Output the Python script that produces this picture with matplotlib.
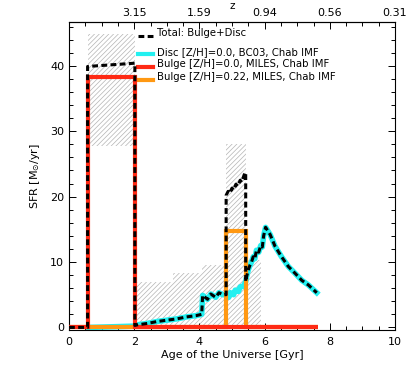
import matplotlib
matplotlib.use("Agg")
import matplotlib.pyplot as plt
from matplotlib.ticker import MultipleLocator
import numpy as np

# uncertainty range (hatched), per age bin [Gyr]
gray_edges = [0.57, 2.02, 3.18, 4.07, 4.82, 5.42, 5.88, 6.25, 6.52]
gray_hi = [44.9, 7.0, 8.3, 9.5, 28.0, 10.3, 0.0, 0.4]
gray_lo = [27.7, 0.0, 0.0, 0.0, 0.0, 0.0, 0.0, 0.0]

# bulges (step histories)
bulge0_edges = [0.0, 0.57, 2.02, 7.65]
bulge0_sfr = [0.0, 38.3, 0.0]
bulge22_edges = [0.0, 0.57, 4.82, 5.42, 7.65]
bulge22_sfr = [0.0, 0.0, 14.8, 0.0]

# disc
disc_age = [0.6, 1.0, 1.5, 2.02, 2.1, 2.4, 2.7, 3.0, 3.3, 3.6, 3.9, 4.07, 4.1,
            4.25, 4.35, 4.5, 4.6, 4.72, 4.82, 4.9, 4.95, 5.05, 5.1, 5.2, 5.25,
            5.35, 5.42, 5.45, 5.5, 5.55, 5.6, 5.65, 5.7, 5.75, 5.82, 5.88,
            5.93, 5.97, 6.03, 6.17, 6.32, 6.52, 6.73, 6.93, 7.14, 7.34, 7.6]
disc_sfr = [0.0, 0.05, 0.12, 0.2, 0.4, 0.6, 0.9, 1.1, 1.3, 1.6, 1.8, 2.0, 4.9,
            4.3, 5.1, 4.6, 5.3, 5.0, 5.0, 4.6, 5.3, 5.0, 5.7, 5.5, 6.2,
            6.3, 7.0, 7.8, 8.8, 9.5, 10.0, 10.8, 10.5, 11.8, 11.5, 12.5,
            12.3, 14.0, 15.3, 14.2, 12.4, 10.8, 9.3, 8.3, 7.2, 6.5, 5.3]

# total
tot_age = [0.0, 0.57, 0.57, 2.02, 2.02, 2.1, 2.4, 2.7, 3.0, 3.3, 3.6, 3.9, 4.07,
           4.1, 4.25, 4.35, 4.5, 4.6, 4.72, 4.82, 4.82, 4.88, 4.93, 5.0, 5.05,
           5.12, 5.18, 5.25, 5.3, 5.37, 5.42, 5.42, 5.45, 5.5, 5.55, 5.6, 5.65,
           5.7, 5.75, 5.82, 5.88, 5.93, 5.97, 6.03, 6.17, 6.32, 6.52, 6.73,
           6.93, 7.14, 7.34, 7.6]
tot_sfr = [0.0, 0.0, 39.9, 40.4, 0.3, 0.4, 0.6, 0.9, 1.1, 1.3, 1.6, 1.8, 2.0,
           4.9, 4.3, 5.1, 4.6, 5.3, 5.0, 5.0, 20.2, 20.8, 20.5, 21.3, 21.0,
           21.9, 21.6, 22.5, 22.2, 23.3, 23.7, 7.0, 7.8, 8.8, 9.5, 10.0, 10.8,
           10.5, 11.8, 11.5, 12.5, 12.3, 14.0, 15.3, 14.2, 12.4, 10.8, 9.3,
           8.3, 7.2, 6.5, 5.3]

z_ticks = [2, 4, 6, 8, 10]
z_labels = ["3.15", "1.59", "0.94", "0.56", "0.31"]

labels = ["Total: Bulge+Disc", "Disc [Z/H]=0.0, BC03, Chab IMF",
          "Bulge [Z/H]=0.0, MILES, Chab IMF", "Bulge [Z/H]=0.22, MILES, Chab IMF"]

CYAN = "#22f0f0"
RED = "#ff2a14"
ORANGE = "#ff9812"
DASH = dict(color="black", lw=2.2, dashes=(1.9, 1.1))

plt.rcParams["font.family"] = "DejaVu Sans"
plt.rcParams["hatch.linewidth"] = 0.5

fig = plt.figure(figsize=(4.15, 3.74), dpi=100)
ax = fig.add_axes([0.1663, 0.1176, 0.7855, 0.8236])

ax.stairs(gray_hi, gray_edges, baseline=gray_lo, fill=True, facecolor="none",
          edgecolor="#b4b4b4", linewidth=0, hatch="///////", zorder=1)
ax.plot(disc_age, disc_sfr, color=CYAN, lw=4.0, zorder=2)
ax.stairs(bulge22_sfr, bulge22_edges, baseline=None, color=ORANGE, lw=3.0, zorder=3)
ax.stairs(bulge0_sfr, bulge0_edges, baseline=None, color=RED, lw=3.0, zorder=4)
ax.plot(tot_age, tot_sfr, zorder=5, **DASH)

ax.set_xlim(0, 10)
ax.set_ylim(-0.4, 46.7)
ax.xaxis.set_major_locator(MultipleLocator(2))
ax.xaxis.set_minor_locator(MultipleLocator(0.5))
ax.yaxis.set_major_locator(MultipleLocator(10))
ax.yaxis.set_minor_locator(MultipleLocator(2))
ax.tick_params(which="both", direction="in", right=True, labelsize=8, width=0.7)
ax.tick_params(which="major", length=5)
ax.tick_params(which="minor", length=3)
ax.tick_params(axis="x", pad=5)
ax.set_xlabel("Age of the Universe [Gyr]", fontsize=8, labelpad=2)
ax.set_ylabel("SFR [M$_{\\odot}$/yr]", fontsize=8, labelpad=6)
for s in ax.spines.values():
    s.set_linewidth(0.8)

sec = ax.secondary_xaxis("top")
sec.set_xticks(z_ticks, labels=z_labels)
sec.xaxis.set_minor_locator(MultipleLocator(0.5))
sec.tick_params(which="both", direction="in", labelsize=8, width=0.7, pad=3)
sec.tick_params(which="major", length=5)
sec.tick_params(which="minor", length=3)
sec.set_xlabel("z", fontsize=7.5, labelpad=-1)

# legend, drawn by hand to match the uneven row spacing
leg_y = [0.964, 0.903, 0.863, 0.820]
leg_style = [DASH, dict(color=CYAN, lw=3.0), dict(color=RED, lw=3.0),
             dict(color=ORANGE, lw=3.0)]
for y, lab, st in zip(leg_y, labels, leg_style):
    ax.plot([0.212, 0.258], [y - 0.008, y - 0.008], transform=ax.transAxes,
            clip_on=False, **st)
    ax.text(0.27, y, lab, transform=ax.transAxes, fontsize=7.3, va="center")

fig.savefig("out.png", dpi=100)
